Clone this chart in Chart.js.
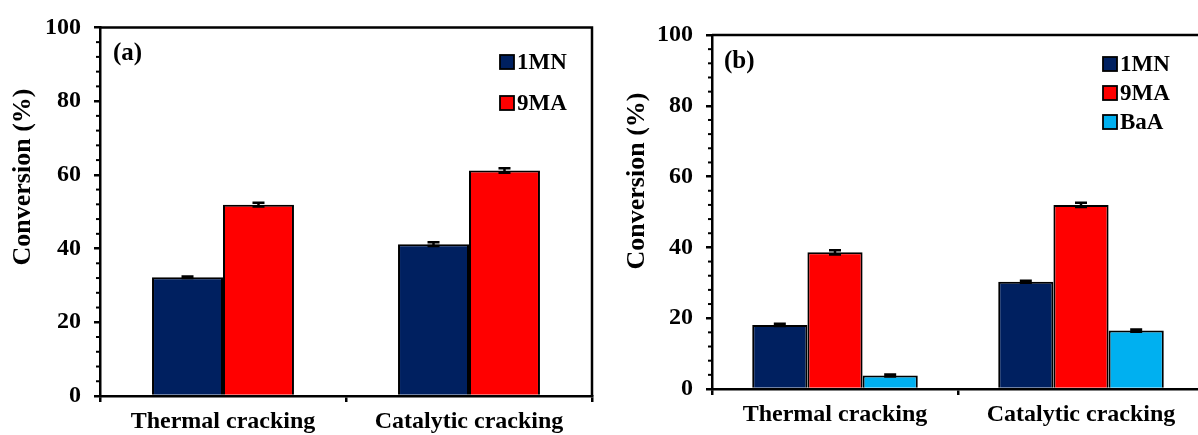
<!DOCTYPE html>
<html>
<head>
<meta charset="utf-8">
<title>Conversion</title>
<script src="https://cdn.jsdelivr.net/npm/chart.js@4.4.1/dist/chart.umd.min.js"></script>
<style>
    html, body { margin: 0; padding: 0; background: #fff; overflow: hidden; }
    #tela { position: relative; width: 1198px; height: 435px; overflow: hidden; }
    .painel { position: absolute; top: 0; height: 435px; }
    #painelA { left: 0; width: 600px; }
    #painelB { left: 600px; width: 620px; }
</style>
</head>
<body>
<div id="tela">
    <div class="painel" id="painelA"><canvas id="graficoA" width="600" height="435"></canvas></div>
    <div class="painel" id="painelB"><canvas id="graficoB" width="620" height="435"></canvas></div>
</div>
<script>
// Dados dos gráficos
var categorias = ['Thermal cracking', 'Catalytic cracking'];
var yTicks = [0, 20, 40, 60, 80, 100];

// (a)
var a_1MN = [32.2, 41.2];
var a_9MA = [51.9, 61.2];
var a_1MN_err = [0.2, 0.5];
var a_9MA_err = [0.5, 0.6];

// (b)
var b_1MN = [18.1, 30.3];
var b_9MA = [38.6, 52.0];
var b_BaA = [3.8, 16.5];
var b_1MN_err = [0.3, 0.3];
var b_9MA_err = [0.6, 0.6];
var b_BaA_err = [0.3, 0.3];

var cores = { '1MN': '#002060', '9MA': '#FF0000', 'BaA': '#00B0F0' };
var fonte = '"Liberation Serif", "Times New Roman", serif';

// barras de erro, moldura, legenda, rótulo do painel e título do eixo
var extras = {
    id: 'extras',
    afterDatasetsDraw: function(chart) {
        var ctx = chart.ctx;
        var y = chart.scales.y;
        ctx.save();
        ctx.strokeStyle = '#000';
        ctx.lineWidth = 2.5;
        chart.data.datasets.forEach(function(ds, i) {
            var meta = chart.getDatasetMeta(i);
            meta.data.forEach(function(bar, j) {
                var v = ds.data[j], e = ds.erros[j];
                var y1 = y.getPixelForValue(v + e), y2 = y.getPixelForValue(v - e);
                ctx.beginPath();
                ctx.moveTo(bar.x, y1); ctx.lineTo(bar.x, y2);
                ctx.moveTo(bar.x - 6, y1); ctx.lineTo(bar.x + 6, y1);
                ctx.moveTo(bar.x - 6, y2); ctx.lineTo(bar.x + 6, y2);
                ctx.stroke();
            });
        });
        ctx.restore();
    },
    afterDraw: function(chart, args, opts) {
        var ctx = chart.ctx;
        var area = chart.chartArea;
        var y = chart.scales.y;
        ctx.save();

        // moldura superior e direita
        ctx.strokeStyle = '#000';
        ctx.lineWidth = 2.5;
        ctx.beginPath();
        ctx.moveTo(area.left, area.top);
        ctx.lineTo(area.right, area.top);
        ctx.lineTo(area.right, area.bottom);
        ctx.stroke();

        // marcas menores do eixo y
        ctx.lineWidth = 2;
        for (var v = 0; v <= 100; v += 4) {
            if (v % 20 === 0) continue;
            var py = y.getPixelForValue(v);
            ctx.beginPath();
            ctx.moveTo(area.left - 4, py);
            ctx.lineTo(area.left, py);
            ctx.stroke();
        }

        // título do eixo y
        ctx.fillStyle = '#000';
        ctx.font = 'bold 26px ' + fonte;
        ctx.textAlign = 'center';
        ctx.textBaseline = 'middle';
        ctx.translate(opts.titulo.x, opts.titulo.y);
        ctx.rotate(-Math.PI / 2);
        ctx.fillText('Conversion (%)', 0, 0);
        ctx.setTransform(1, 0, 0, 1, 0, 0);

        // (a) / (b)
        ctx.textAlign = 'left';
        ctx.font = 'bold 25px ' + fonte;
        ctx.fillText(opts.rotulo.texto, opts.rotulo.x, opts.rotulo.y);

        // legenda
        ctx.font = 'bold 23px ' + fonte;
        chart.data.datasets.forEach(function(ds, i) {
            var cy = opts.legenda.y + i * opts.legenda.passo;
            ctx.fillStyle = ds.backgroundColor;
            ctx.fillRect(opts.legenda.x, cy - 7, 14, 14);
            ctx.lineWidth = 1.8;
            ctx.strokeRect(opts.legenda.x, cy - 7, 14, 14);
            ctx.fillStyle = '#000';
            ctx.fillText(ds.label, opts.legenda.x + 17, cy + 1);
        });
        ctx.restore();
    }
};

function serie(nome, valores, erros) {
    return {
        label: nome,
        data: valores,
        erros: erros,
        backgroundColor: cores[nome],
        borderColor: '#000',
        borderWidth: 2,
        barPercentage: 1
    };
}

function criarGrafico(id, series, cfg) {
    return new Chart(document.getElementById(id), {
        type: 'bar',
        data: { labels: categorias, datasets: series },
        options: {
            responsive: false,
            animation: false,
            devicePixelRatio: 1,
            categoryPercentage: cfg.catPct,
            layout: { padding: { top: cfg.topo, right: cfg.direita, bottom: 0, left: 0 } },
            plugins: {
                legend: { display: false },
                tooltip: { enabled: false },
                extras: cfg.extras
            },
            scales: {
                x: {
                    offset: true,
                    grid: { offset: true, drawOnChartArea: false, tickLength: 6, color: '#000', lineWidth: 2.5 },
                    border: { color: '#000', width: 2.5 },
                    ticks: { color: '#000', font: { family: fonte, size: 24, weight: 'bold' }, padding: cfg.padX, maxRotation: 0, autoSkip: false },
                    afterFit: function(s) { s.height = cfg.altX; }
                },
                y: {
                    min: 0,
                    max: 100,
                    afterBuildTicks: function(s) { s.ticks = yTicks.map(function(v) { return { value: v }; }); },
                    grid: { drawOnChartArea: false, tickLength: 6, color: '#000', lineWidth: 2.5 },
                    border: { color: '#000', width: 2.5 },
                    ticks: { color: '#000', font: { family: fonte, size: 24, weight: 'bold' }, padding: 13 },
                    afterFit: function(s) { s.width = cfg.largY; }
                }
            }
        },
        plugins: [extras]
    });
}

criarGrafico('graficoA', [
    serie('1MN', a_1MN, a_1MN_err),
    serie('9MA', a_9MA, a_9MA_err)
], {
    catPct: 0.577, topo: 25, direita: 8, altX: 39, largY: 100, padX: 5,
    extras: {
        titulo: { x: 23, y: 177 },
        rotulo: { texto: '(a)', x: 113, y: 54 },
        legenda: { x: 500, y: 62, passo: 41 }
    }
});

criarGrafico('graficoB', [
    serie('1MN', b_1MN, b_1MN_err),
    serie('9MA', b_9MA, b_9MA_err),
    serie('BaA', b_BaA, b_BaA_err)
], {
    catPct: 0.673, topo: 35, direita: 16, altX: 46, largY: 112, padX: 5,
    extras: {
        titulo: { x: 37, y: 181 },
        rotulo: { texto: '(b)', x: 124, y: 62 },
        legenda: { x: 503, y: 64, passo: 29 }
    }
});
</script>
</body>
</html>
